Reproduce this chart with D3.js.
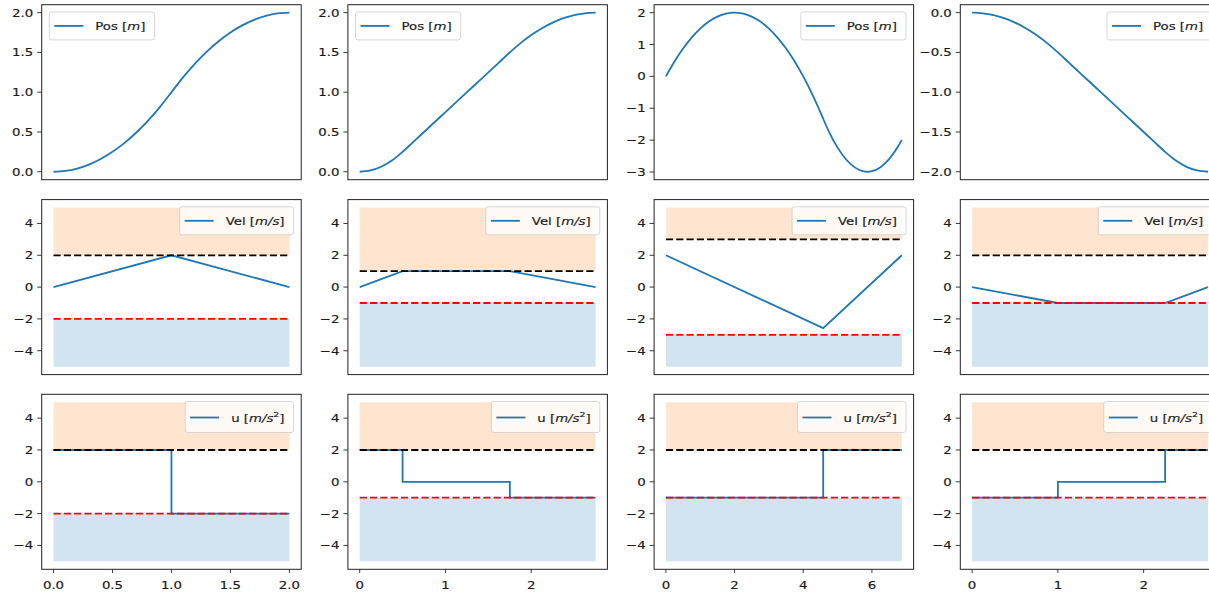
<!DOCTYPE html>
<html><head><meta charset="utf-8">
<script src="https://cdn.jsdelivr.net/npm/d3@7"></script>
<style>body{margin:0;background:#fff;overflow:hidden} text{font-family:"DejaVu Sans",sans-serif}</style>
</head><body><svg id="c" width="1209" height="596"></svg>
<script>
// ---------- data ----------
const durations = [2.0, 2.75, 6.87, 2.75];

const posT1 = [0,0.1,0.2,0.3,0.4,0.5,0.6,0.7,0.8,0.9,1.0,1.1,1.2,1.3,1.4,1.5,1.6,1.7,1.8,1.9,2.0];
const posV1 = [0,0.01,0.04,0.09,0.16,0.25,0.36,0.49,0.64,0.81,1.0,1.19,1.36,1.51,1.64,1.75,1.84,1.91,1.96,1.99,2.0];
const posT2 = [0,0.125,0.25,0.375,0.5,0.625,0.75,0.875,1.0,1.125,1.25,1.375,1.5,1.625,1.75,1.875,2.0,2.125,2.25,2.375,2.5,2.625,2.75];
const posV2 = [0,0.016,0.063,0.141,0.25,0.375,0.5,0.625,0.75,0.875,1.0,1.125,1.25,1.375,1.5,1.617,1.719,1.805,1.875,1.930,1.969,1.992,2.0];
const posT3 = [0,0.25,0.5,0.75,1.0,1.25,1.5,1.75,2.0,2.25,2.5,2.75,3.0,3.25,3.5,3.75,4.0,4.25,4.5,4.58,4.75,5.0,5.25,5.5,5.75,5.87,6.0,6.25,6.5,6.75,6.87];
const posV3 = [0,0.469,0.875,1.219,1.5,1.719,1.875,1.969,2.0,1.969,1.875,1.719,1.5,1.219,0.875,0.469,0,-0.531,-1.125,-1.328,-1.738,-2.235,-2.608,-2.855,-2.978,-2.992,-2.975,-2.848,-2.595,-2.218,-1.992];
const posT4 = [0,0.125,0.25,0.375,0.5,0.625,0.75,0.875,1.0,1.125,1.25,1.375,1.5,1.625,1.75,1.875,2.0,2.125,2.25,2.375,2.5,2.625,2.75];
const posV4 = [0,-0.008,-0.031,-0.070,-0.125,-0.195,-0.281,-0.383,-0.5,-0.625,-0.75,-0.875,-1.0,-1.125,-1.25,-1.375,-1.5,-1.625,-1.75,-1.859,-1.938,-1.984,-2.0];

const velT1 = [0,1,2],            velV1 = [0,2,0];
const velT2 = [0,0.5,1.75,2.75],  velV2 = [0,1,1,0];
const velT3 = [0,4.58,6.87],      velV3 = [2,-2.58,2];
const velT4 = [0,1,2.25,2.75],    velV4 = [0,-1,-1,0];

const accT1 = [0,1,2],            accV1 = [2,-2,-2];
const accT2 = [0,0.5,1.75,2.75],  accV2 = [2,0,-1,-1];
const accT3 = [0,4.58,6.87],      accV3 = [-1,2,2];
const accT4 = [0,1,2.25,2.75],    accV4 = [-1,0,2,2];

const velUpper = [2,1,3,2];
const velLower = [-2,-1,-3,-1];
const accUpper = [2,2,2,2];
const accLower = [-2,-1,-1,-1];
const bandTop = 5, bandBottom = -5;

const posTicks = [[0,0.5,1,1.5,2],[0,0.5,1,1.5,2],[-3,-2,-1,0,1,2],[-2,-1.5,-1,-0.5,0]];
const boundTicks = [-4,-2,0,2,4];
const timeTicks = [[0,0.5,1,1.5,2],[0,1,2],[0,2,4,6],[0,1,2]];
const posFmt = [".1f",".1f","d",".1f"];
const timeFmt = [".1f","d","d","d"];

const legendPos = [{t:"Pos ["},{t:"m",i:1},{t:"]"}];
const legendVel = [{t:"Vel ["},{t:"m/s",i:1},{t:"]"}];
const legendAcc = [{t:"u ["},{t:"m/s",i:1},{t:"2",sup:1},{t:"]"}];

// ---------- layout ----------
const lefts = [41.7, 347.9, 654.1, 960.3];
const tops = [4.7, 199.6, 394.3];
const W = 259.5, H = 175;
const FS = 13.3, SY = 0.8;
const BLUE = "#1f77b4";
const INK = "#1a1a1a";

const svg = d3.select("#c");

function txt(g, x, y, s, anchor){
  return g.append("text").attr("transform", `translate(${x},${y}) scale(1,${SY})`)
    .attr("text-anchor", anchor).attr("font-size", FS).attr("fill", INK)
    .attr("stroke", INK).attr("stroke-width", 0.2).text(s);
}

function panel(col, row, times, vals, opts){
  const T = durations[col];
  const x0 = lefts[col], y0 = tops[row];
  const x = d3.scaleLinear().domain([-0.05*T, 1.05*T]).range([x0, x0+W]);
  let ydom;
  if (row === 0){
    const e = d3.extent(vals); const pad = 0.05*(e[1]-e[0]);
    ydom = [e[0]-pad, e[1]+pad];
  } else ydom = [-5.5, 5.5];
  const y = d3.scaleLinear().domain(ydom).range([y0+H, y0]);
  const g = svg.append("g");

  if (row > 0){
    const up = opts.upper, lo = opts.lower;
    const area = d3.area().x(d=>x(d[0])).y0(d=>y(d[1])).y1(d=>y(d[2]));
    g.append("path").datum([[0,up,bandTop],[T,up,bandTop]]).attr("d", area)
      .attr("fill", "#ff7f0e").attr("fill-opacity", 0.2);
    g.append("path").datum([[0,bandBottom,lo],[T,bandBottom,lo]]).attr("d", area)
      .attr("fill", BLUE).attr("fill-opacity", 0.2);
  }

  const pts = times.map((t,i)=>[t, vals[i]]);
  const line = d3.line().x(d=>x(d[0])).y(d=>y(d[1]))
    .curve(row===0 ? d3.curveMonotoneX : (row===2 ? d3.curveStepAfter : d3.curveLinear));
  g.append("path").datum(pts).attr("d", line).attr("fill","none")
    .attr("stroke", BLUE).attr("stroke-width", 1.8);

  if (row > 0){
    [[opts.upper,"#000"],[opts.lower,"#ff0000"]].forEach(([b,c])=>{
      g.append("line").attr("x1", x(0)).attr("x2", x(T)).attr("y1", y(b)).attr("y2", y(b))
        .attr("stroke", c).attr("stroke-width", 1.8).attr("stroke-dasharray", "7.2,3.1");
    });
  }

  // spines
  g.append("rect").attr("x", x0).attr("y", y0).attr("width", W).attr("height", H)
    .attr("fill","none").attr("stroke","#222").attr("stroke-width",1);

  // y ticks
  const yt = row===0 ? posTicks[col] : boundTicks;
  const yf = row===0 ? d3.format(posFmt[col]) : d3.format("d");
  yt.forEach(v=>{
    const yy = y(v);
    g.append("line").attr("x1", x0-4.5).attr("x2", x0).attr("y1", yy).attr("y2", yy)
      .attr("stroke","#222").attr("stroke-width",0.9);
    txt(g, x0-8.5, yy+4, yf(v), "end");
  });

  // x ticks (bottom row only)
  if (row === 2){
    const xf = d3.format(timeFmt[col]);
    timeTicks[col].forEach(v=>{
      const xx = x(v);
      g.append("line").attr("x1", xx).attr("x2", xx).attr("y1", y0+H).attr("y2", y0+H+3.6)
        .attr("stroke","#222").attr("stroke-width",0.9);
      txt(g, xx, 589, xf(v), "middle");
    });
  }

  // legend
  const parts = opts.legend;
  const sup = parts.some(p=>p.sup);
  const bh = sup ? 31 : 28;
  const lg = g.append("g");
  const box = lg.append("rect").attr("rx",2.5).attr("ry",2.5).attr("height", bh)
    .attr("fill","#fff").attr("fill-opacity",0.8).attr("stroke","#cccccc").attr("stroke-opacity",0.8).attr("stroke-width",1);
  const hy = sup ? 16 : 14;
  const hl = lg.append("line").attr("y1", hy).attr("y2", hy).attr("stroke", BLUE).attr("stroke-width",1.8);
  const t = lg.append("text").attr("font-size", FS).attr("fill", INK)
    .attr("stroke", INK).attr("stroke-width", 0.2);
  parts.forEach(p=>{
    const s = t.append("tspan").text(p.t);
    if (p.i) s.attr("font-style","italic");
    if (p.sup) s.attr("font-size", 9.5).attr("dy", -5.5);
  });
  if (sup){ t.selectAll("tspan").filter((d,i)=>i===parts.length-1).attr("dy", 5.5); }
  const tw = t.node().getComputedTextLength();
  const bw = 46 + tw + 9;
  t.attr("transform", `translate(46,${hy+4.3}) scale(1,${SY})`);
  box.attr("width", bw);
  hl.attr("x1", 5).attr("x2", 34);
  const lx = opts.legendLeft ? x0 + 7.6 : x0 + W - 7.6 - bw;
  const ly = y0 + 7.2;
  lg.attr("transform", `translate(${lx},${ly})`);
}

const posT = [posT1,posT2,posT3,posT4], posV = [posV1,posV2,posV3,posV4];
const velT = [velT1,velT2,velT3,velT4], velV = [velV1,velV2,velV3,velV4];
const accT = [accT1,accT2,accT3,accT4], accV = [accV1,accV2,accV3,accV4];

for (let c=0;c<4;c++){
  panel(c, 0, posT[c], posV[c], {legend: legendPos, legendLeft: c<2});
  panel(c, 1, velT[c], velV[c], {legend: legendVel, upper: velUpper[c], lower: velLower[c]});
  panel(c, 2, accT[c], accV[c], {legend: legendAcc, upper: accUpper[c], lower: accLower[c]});
}
</script>
</body></html>
